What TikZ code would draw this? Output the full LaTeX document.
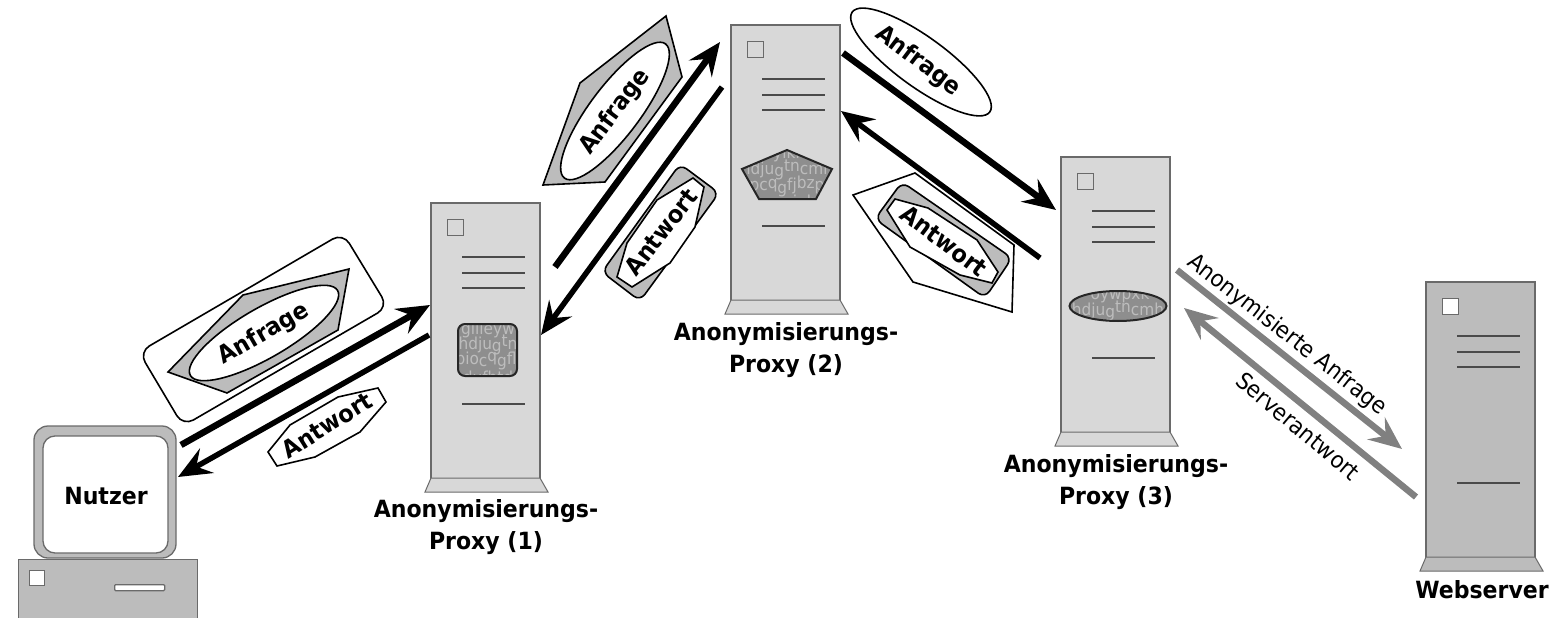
\documentclass[tikz,border=0pt]{standalone}
\usepackage{fontspec}
\setmainfont[FakeStretch=0.93]{DejaVu Sans}
\usetikzlibrary{arrows.meta,shapes.geometric}
\definecolor{srvlight}{HTML}{D8D8D8}
\definecolor{srvdark}{HTML}{BCBCBC}
\definecolor{srvline}{HTML}{6A6A6A}
\definecolor{blobfill}{HTML}{8E8E8E}
\definecolor{bloblet}{HTML}{BDBDBD}
\definecolor{greyarrow}{HTML}{808080}
\tikzset{
  srvbody/.style={draw=srvline,line width=1.3pt,minimum width=109pt,minimum height=276pt,inner sep=0pt,outer sep=0pt},
  srvbase/.style={draw=srvline,line width=1pt},
  srvsq/.style={draw=srvline,line width=1.3pt,minimum size=16pt,inner sep=0pt},
  srvrule/.style={draw=srvline!70!black,line width=1.4pt},
  title/.style={font=\fontsize{23.7}{31.5}\selectfont\bfseries,align=center,text=black},
  tag/.style={font=\fontsize{24}{28}\selectfont\bfseries,text=black,inner sep=0pt},
  plain/.style={font=\fontsize{23}{27}\selectfont,text=black,inner sep=0pt},
  whitebub/.style={draw=black,line width=1.6pt,fill=white},
  greybub/.style={draw=black,line width=1.6pt,fill=srvdark},
  ell/.style={draw=black,line width=1.6pt,fill=white,ellipse,inner sep=0pt,outer sep=0pt},
  blob/.style={draw=black!85,line width=2pt,fill=blobfill},
  garble/.style={font=\fontsize{16.5}{18}\selectfont,text=bloblet,inner sep=0pt},
  blackarrow/.style={draw=black,line width=6.5pt,-{Stealth[length=33pt,width=28pt,inset=12pt]}},
  blackarrowb/.style={draw=black,line width=5.5pt,-{Stealth[length=33pt,width=28pt,inset=12pt]}},
  greyline/.style={draw=greyarrow,line width=6.5pt,-{Stealth[length=33pt,width=28pt,inset=12pt]}},
}
\newcommand{\lo}[1]{\raisebox{-2.5pt}{#1}}
\newcommand{\hi}[1]{\raisebox{2.5pt}{#1}}
% #1 name, #2 x left, #3 y top, #4 fill, #5 square fill
\newcommand{\myserver}[5]{%
  \begin{scope}[shift={(#2,#3)}]
    \node[srvbody,fill=#4,anchor=north west] (#1) at (0,0) {};
    \draw[srvbase,fill=#4] (0,275) -- (-6,289) -- (117,289) -- (109,275) -- cycle;
    \node[srvsq,fill=#5,anchor=north west] (#1sq) at (16,16) {};
    \foreach \yy in {54,70,85,201} \draw[srvrule] (31,\yy) -- (94,\yy);
  \end{scope}}
\begin{document}
\begin{tikzpicture}[x=1pt,y=-1pt]
\useasboundingbox (0,0) rectangle (1567,618);

% computer
\node[draw=srvline,line width=1.3pt,fill=srvdark,rounded corners=14pt,minimum width=142pt,minimum height=132pt,inner sep=0pt] (mon) at (105,492) {};
\node[draw=srvline,line width=1.3pt,fill=white,rounded corners=12pt,minimum width=125pt,minimum height=117pt,inner sep=0pt] (screen) at (105.5,494.5) {};
\node[title] (nutzer) at (106,496) {Nutzer};
\node[draw=srvline,line width=1.3pt,fill=srvdark,minimum width=179pt,minimum height=80pt,inner sep=0pt,anchor=north west] (case) at (18,559) {};
\node[srvsq,fill=white,minimum size=15pt,anchor=north west] (casesq) at (29,570) {};
\node[draw=srvline,line width=1.3pt,fill=white,rounded corners=1pt,minimum width=50pt,minimum height=6pt,inner sep=0pt,anchor=north west] (slot) at (114,584) {};

% servers
\myserver{pa}{431}{203}{srvlight}{srvlight}
\myserver{pb}{731}{25}{srvlight}{srvlight}
\myserver{pc}{1061}{157}{srvlight}{srvlight}
\myserver{web}{1426}{282}{srvdark}{white}

% blob proxy 1
\begin{scope}
  \clip[rounded corners=7pt] (458,324) rectangle (517,376);
  \fill[blobfill] (458,324) rectangle (517,376);
  \node[garble] (ga1) at (488,330) {gllieyw};
  \node[garble] (ga2) at (488,345) {hdju\lo{g}\hi{t}n};
  \node[garble] (ga3) at (486,361) {pio\lo{c}\hi{q}\lo{g}fl};
  \node[garble] (ga4) at (488,377) {dufbtd};
\end{scope}
\draw[blob,fill=none,rounded corners=7pt] (458,324) rectangle (517,376);

% blob proxy 2
\begin{scope}
  \clip (787,150) -- (832,169) -- (816,199) -- (759,199) -- (742,169) -- cycle;
  \fill[blobfill] (730,140) rectangle (840,210);
  \node[garble] (gb1) at (787,154) {ylkf};
  \node[garble] (gb2) at (787,170) {hdju\lo{g}\hi{tn}cmh};
  \node[garble] (gb3) at (787,186) {pc\hi{q}\lo{g}fj\hi{bz}p};
  \node[garble] (gb4) at (795,201) {uuiuh};
\end{scope}
\draw[blob,fill=none] (787,150) -- (832,169) -- (816,199) -- (759,199) -- (742,169) -- cycle;

% blob proxy 3
\begin{scope}
  \clip (1118,306) ellipse [x radius=48pt,y radius=14.5pt];
  \fill[blobfill] (1060,285) rectangle (1175,330);
  \node[garble] (gc1) at (1120,295) {oywpxk};
  \node[garble] (gc2) at (1118,311) {hdju\lo{g}\hi{tn}cmh};
\end{scope}
\node[ellipse,draw=black!85,line width=2pt,minimum width=97pt,minimum height=30pt,inner sep=0pt] (gc) at (1118,306) {};

% arrow end points
\coordinate (a1s) at (181,445); \coordinate (a1e) at (430,305);
\coordinate (a2s) at (429,335); \coordinate (a2e) at (178,477);
\coordinate (a3s) at (555,267); \coordinate (a3e) at (720,42);
\coordinate (a4s) at (722,87);  \coordinate (a4e) at (541,335);
\coordinate (a5s) at (843,53);  \coordinate (a5e) at (1056,210);
\coordinate (a6s) at (1040,258);\coordinate (a6e) at (841,111);
\coordinate (a7s) at (1177,270);\coordinate (a7e) at (1402,449);
\coordinate (a8s) at (1416,497);\coordinate (a8e) at (1184,308);
\draw[blackarrow] (a1s) -- (a1e);
\draw[blackarrowb] (a2s) -- (a2e);
\draw[blackarrow] (a3s) -- (a3e);
\draw[blackarrowb] (a4s) -- (a4e);
\draw[blackarrow] (a5s) -- (a5e);
\draw[blackarrowb] (a6s) -- (a6e);
\draw[greyline] (a7s) -- (a7e);
\draw[greyline] (a8s) -- (a8e);

% Anfrage 1
\draw[whitebub,rounded corners=12pt] (139,352) -- (183,426) -- (388,307) -- (343,233) -- cycle;
\draw[greybub] (168,372) -- (243,295) -- (349,269) -- (338,330) -- (227,393) -- cycle;
\node[ell,minimum width=170pt,minimum height=50pt,rotate=30] (e1) at (264,333) {};
\node[tag,rotate=30] (t1) at (264,334) {Anfrage};

% Antwort 1
\draw[whitebub] (268,452) -- (290,425) -- (338,397) -- (378,388) -- (386,402) -- (360,432) -- (315,457) -- (277,466) -- cycle;
\node[tag,rotate=32] (t2) at (327,425) {Antwort};

% Anfrage 2
\draw[greybub] (666,16) -- (682,77) -- (605,182) -- (543,185) -- (580,83) -- cycle;
\node[ell,minimum width=168pt,minimum height=50pt,rotate=53] (e2) at (615,111) {};
\node[tag,rotate=53] (t3) at (615,112) {Anfrage};

% Antwort 2
\draw[greybub,rounded corners=8pt] (680,164) -- (719,193) -- (640,301) -- (602,272) -- cycle;
\draw[whitebub] (693,178) -- (704,187) -- (695,227) -- (670,263) -- (632,287) -- (617,277) -- (627,243) -- (657,200) -- cycle;
\node[tag,rotate=52] (t4) at (661,232) {Antwort};

% Anfrage 3
\node[ell,minimum width=170pt,minimum height=50pt,rotate=-36] (e3) at (921,62) {};
\node[tag,rotate=-37] (t5) at (918,61) {Anfrage};

% Antwort 3
\draw[whitebub] (853,195) -- (915,173) -- (1014,245) -- (1012,312) -- (913,282) -- cycle;
\draw[greybub,rounded corners=8pt] (902,182) -- (1012,258) -- (985,298) -- (875,219) -- cycle;
\draw[whitebub] (895,199) -- (928,208) -- (977,240) -- (998,272) -- (992,283) -- (960,275) -- (910,247) -- (887,210) -- cycle;
\node[tag,rotate=-37] (t6) at (944,241) {Antwort};

% grey labels
\node[plain,rotate=-38] (t7) at (1287,335) {Anonymisierte Anfrage};
\node[plain,rotate=-40] (t8) at (1298,426) {Serverantwort};

% titles
\node[title] (l1) at (486,527) {Anonymisierungs-\\Proxy (1)};
\node[title] (l2) at (786,350) {Anonymisierungs-\\Proxy (2)};
\node[title] (l3) at (1116,482) {Anonymisierungs-\\Proxy (3)};
\node[title] (l4) at (1482,590) {Webserver};
\end{tikzpicture}
\end{document}
